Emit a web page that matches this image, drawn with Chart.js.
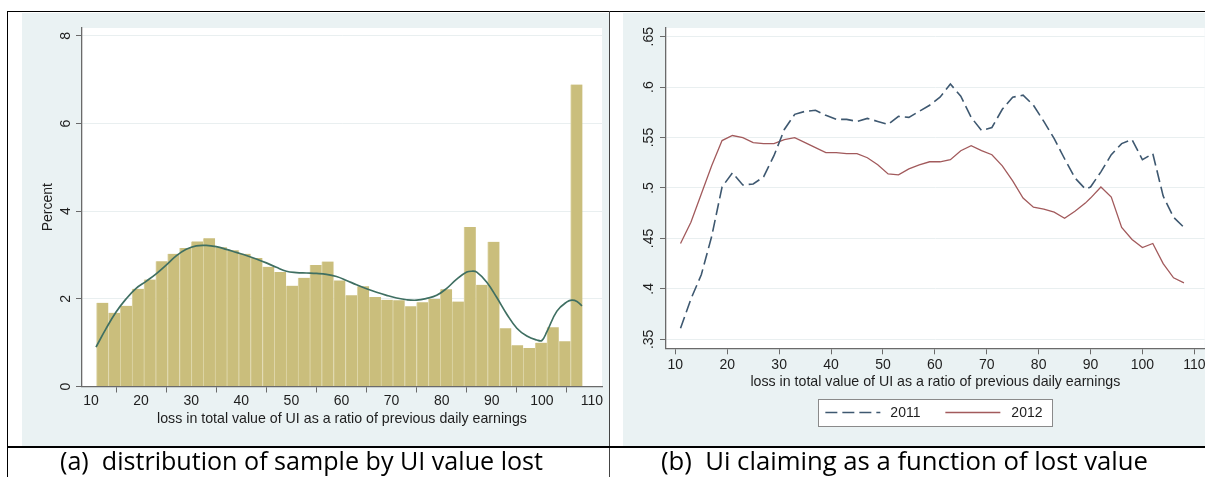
<!DOCTYPE html>
<html><head><meta charset="utf-8">
<script src="https://cdn.jsdelivr.net/npm/chart.js@4.4.1/dist/chart.umd.min.js"></script>
<style>
html,body{margin:0;padding:0;background:#fff;}
body{width:1205px;height:477px;position:relative;overflow:hidden;font-family:"Liberation Sans",Arial,sans-serif;}
.panel{position:absolute;background:#EAF2F3;}
.panel canvas{position:absolute;left:0;top:0;}
.ln{position:absolute;background:#000;}
.cap{position:absolute;font-family:"Open Sans",sans-serif;font-size:26px;line-height:26px;white-space:pre;color:#000;transform-origin:0 0;}
</style></head><body>
<div class="panel" style="left:22px;top:13px;width:587px;height:433px"><canvas id="c1" width="587" height="433"></canvas></div>
<div class="panel" style="left:623px;top:13px;width:582px;height:433px"><canvas id="c2" width="582" height="433"></canvas></div>
<div class="ln" style="left:7px;top:11px;width:1198px;height:1px"></div>
<div class="ln" style="left:7px;top:11px;width:1px;height:466px"></div>
<div class="ln" style="left:609px;top:11px;width:1px;height:466px;background:#444"></div>
<div class="ln" style="left:7px;top:446px;width:1198px;height:2px"></div>
<div class="cap" id="capA" style="left:60px;top:447px" data-w="483">(a)  distribution of sample by UI value lost</div>
<div class="cap" id="capB" style="left:661px;top:447px" data-w="487">(b)  Ui claiming as a function of lost value</div>
<script>
// ---------- data ----------
const xTicks = [10,20,30,40,50,60,70,80,90,100,110];
const pctTicks = [0,2,4,6,8];
const pctTickLabels = ['0','2','4','6','8'];
const binCenters = [12.28,14.65,17.02,19.38,21.75,24.11,26.48,28.85,31.21,33.58,35.94,38.31,40.68,43.04,45.41,47.77,50.14,52.51,54.87,57.24,59.60,61.97,64.34,66.70,69.07,71.43,73.80,76.17,78.53,80.90,83.26,85.63,88.00,90.36,92.73,95.09,97.46,99.83,102.19,104.56,106.92];
const pctValues = [1.91,1.68,1.84,2.23,2.44,2.86,3.03,3.16,3.31,3.38,3.18,3.11,3.03,2.93,2.73,2.61,2.30,2.48,2.77,2.85,2.42,2.08,2.29,2.04,1.98,1.97,1.83,1.92,2.00,2.22,1.94,3.64,2.32,3.30,1.33,0.94,0.88,1.00,1.35,1.03,6.89];
const kdeX = [11,13,15,17,19,21,23,25,27,29,31,33,35,37,39,41,43,45,47,49,51,53,55,57,59,61,63,65,67,69,71,73,75,77,79,81,83,85,86,87,89,91,93,95,97,99,100,101,103,105,106,107,108];
const kdeY = [0.90,1.32,1.70,2.00,2.24,2.40,2.57,2.77,2.98,3.13,3.21,3.22,3.19,3.13,3.06,2.99,2.91,2.82,2.72,2.63,2.60,2.59,2.58,2.56,2.51,2.42,2.32,2.23,2.15,2.08,2.02,1.98,1.97,2.01,2.08,2.24,2.45,2.61,2.63,2.61,2.38,2.03,1.65,1.33,1.15,1.06,1.05,1.25,1.72,1.93,1.97,1.94,1.84];
const rateX = [11,13,15,17,19,21,23,25,27,29,31,33,35,37,39,41,43,45,47,49,51,53,55,57,59,61,63,65,67,69,71,73,75,77,79,81,83,85,87,89,90,92,94,96,98,100,102,104,106,108];
const rate2011 = [.361,.390,.414,.452,.501,.515,.503,.504,.511,.532,.558,.573,.576,.577,.572,.568,.568,.566,.569,.566,.563,.571,.570,.576,.582,.590,.603,.591,.570,.557,.560,.578,.590,.592,.582,.566,.549,.529,.510,.499,.501,.516,.533,.544,.548,.528,.534,.492,.471,.461];
const rate2012 = [.445,.466,.494,.522,.547,.552,.550,.545,.544,.544,.548,.550,.545,.540,.535,.535,.534,.534,.530,.523,.514,.513,.519,.523,.526,.526,.528,.537,.542,.537,.533,.522,.507,.490,.481,.479,.476,.470,.477,.485,.490,.501,.491,.461,.449,.441,.445,.425,.411,.406];
const rateTicks = [0.35,0.40,0.45,0.50,0.55,0.60,0.65];
const rateTickLabels = ['.35','.4','.45','.5','.55','.6','.65'];
const seriesNames = ['2011','2012'];
const xTitle = 'loss in total value of UI as a ratio of previous daily earnings';
const yTitleLeft = 'Percent';

// ---------- style ----------
const FONT = '"Liberation Sans", Arial, sans-serif';
Chart.defaults.font.family = FONT;
const TXT = '#1e1e1e', AX = '#6a6a6a', GRID = '#E9EFF0';

const plotBg = {id:'plotBg', beforeDraw(c){const a=c.chartArea,ctx=c.ctx;ctx.save();ctx.fillStyle='#fff';ctx.fillRect(a.left,a.top,a.right-a.left,a.bottom-a.top);ctx.restore();}};
const rotY = {id:'rotY', afterDraw(c,args,o){const s=c.scales.y,ctx=c.ctx;ctx.save();ctx.font='14px '+FONT;ctx.fillStyle=TXT;ctx.textAlign='center';ctx.textBaseline='alphabetic';
  s.ticks.forEach((t,i)=>{const y=s.getPixelForValue(t.value);ctx.save();ctx.translate(o.x,y);ctx.rotate(-Math.PI/2);ctx.fillText(o.labels[i],0,0);ctx.restore();});ctx.restore();}};

function xScale(h, tickPad, titlePad){
  return {type:'linear',position:'bottom',min:8.2,max:112,offset:false,
    grid:{drawOnChartArea:false,drawTicks:true,tickLength:6,tickColor:AX,tickWidth:1},
    border:{display:true,color:AX,width:1.3},
    ticks:{font:{size:14},color:TXT,padding:tickPad,autoSkip:false,maxRotation:0,minRotation:0},
    title:{display:true,text:xTitle,font:{size:14.2},color:TXT,padding:{top:0,bottom:titlePad}},
    afterBuildTicks:s=>{s.ticks=xTicks.map(v=>({value:v}));},
    afterFit:s=>{s.height=h;s.paddingLeft=0;s.paddingRight=0;}};
}
function yScale(w,min,max,ticks,title){
  return {type:'linear',min:min,max:max,
    grid:{color:GRID,lineWidth:1,drawTicks:true,tickLength:6,tickColor:AX,tickWidth:1},
    border:{display:true,color:AX,width:1.3},
    ticks:{display:false},
    title:title?{display:true,text:title,font:{size:14},color:TXT,padding:{top:17.6,bottom:0}}:{display:false},
    afterBuildTicks:s=>{s.ticks=ticks.map(v=>({value:v}));},
    afterFit:s=>{s.width=w;s.paddingTop=0;s.paddingBottom=0;}};
}

new Chart(document.getElementById('c1'),{
  type:'bar',
  data:{datasets:[
    {type:'line',order:0,data:kdeX.map((x,i)=>({x:x,y:kdeY[i]})),borderColor:'#3F6F62',borderWidth:1.7,pointRadius:0,tension:0.4,fill:false},
    {type:'bar',order:1,data:binCenters.map((x,i)=>({x:x,y:pctValues[i]})),backgroundColor:'#CABE7C',borderColor:'#DED6A8',borderWidth:{left:1,right:0,top:0,bottom:0},borderSkipped:false,barPercentage:1,categoryPercentage:1}
  ]},
  options:{responsive:false,animation:false,events:[],
    layout:{padding:{left:0,top:15,right:7,bottom:0}},
    plugins:{legend:{display:false},tooltip:{enabled:false},rotY:{x:48,labels:pctTickLabels}},
    scales:{x:xScale(59.5,0,18.6),y:yScale(60,0,8.18,pctTicks,yTitleLeft)}},
  plugins:[plotBg,rotY]
});

const legendPlug = {id:'legendPlug', afterDraw(c){
  const ctx=c.ctx,a=c.chartArea,cx=(a.left+a.right)/2,w=234,h=27,top=386;
  const l=cx-w/2; const cy=top+h/2;
  ctx.save();
  ctx.fillStyle='#fff';ctx.fillRect(l,top,w,h);
  ctx.strokeStyle='#8a8a8a';ctx.lineWidth=1;ctx.strokeRect(Math.round(l)+0.5,top+0.5,w,h);
  const ds=c.data.datasets;
  const items=[{x0:l+7,x1:l+62,tx:l+72},{x0:l+127,x1:l+182,tx:l+193}];
  items.forEach((it,i)=>{
    ctx.beginPath();ctx.strokeStyle=ds[i].borderColor;ctx.lineWidth=ds[i].borderWidth;ctx.setLineDash(ds[i].borderDash||[]);
    ctx.moveTo(it.x0,cy);ctx.lineTo(it.x1,cy);ctx.stroke();ctx.setLineDash([]);
    ctx.fillStyle=TXT;ctx.font='14px '+FONT;ctx.textAlign='left';ctx.textBaseline='middle';ctx.fillText(ds[i].label,it.tx,cy+0.5);
  });
  ctx.restore();
}};

new Chart(document.getElementById('c2'),{
  type:'line',
  data:{datasets:[
    {label:seriesNames[0],data:rateX.map((x,i)=>({x:x,y:rate2011[i]})),borderColor:'#3E5870',borderWidth:1.6,borderDash:[12,5],pointRadius:0,tension:0,fill:false},
    {label:seriesNames[1],data:rateX.map((x,i)=>({x:x,y:rate2012[i]})),borderColor:'#A25A5C',borderWidth:1.3,pointRadius:0,tension:0,fill:false}
  ]},
  options:{responsive:false,animation:false,events:[],
    layout:{padding:{left:0,top:15,right:0.3,bottom:0}},
    plugins:{legend:{display:false},tooltip:{enabled:false},rotY:{x:30,labels:rateTickLabels}},
    scales:{x:xScale(97.7,2,55),y:yScale(43,0.3411,0.6586,rateTicks,null)}},
  plugins:[plotBg,rotY,legendPlug]
});

function fitCaps(){document.querySelectorAll('.cap').forEach(el=>{el.style.transform='none';const w=el.getBoundingClientRect().width;el.style.transform='scaleX('+(parseFloat(el.dataset.w)/w)+')';});}
fitCaps();
if(document.fonts&&document.fonts.ready)document.fonts.ready.then(fitCaps);
</script>
</body></html>
